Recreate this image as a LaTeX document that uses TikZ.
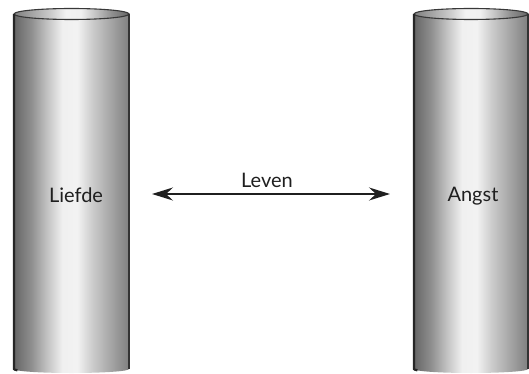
\documentclass[tikz,border=0pt]{standalone}
\usepackage{fontspec}
\setmainfont{Lato}
\usetikzlibrary{arrows.meta}
\pgfdeclarehorizontalshading{pillar}{100bp}{
  color(0bp)=(black!60);
  color(25bp)=(black!60);
  color(32.5bp)=(black!44);
  color(40bp)=(black!22);
  color(46bp)=(black!6);
  color(52.5bp)=(black!5);
  color(59bp)=(black!20);
  color(67.5bp)=(black!36);
  color(75bp)=(black!50);
  color(100bp)=(black!50)}
\tikzset{
  lbl/.style={font=\fontsize{20}{24}\selectfont, text=black!88, anchor=base, inner sep=0pt},
  rimline/.style={draw=black!78, line width=1.1pt},
  conn/.style={line width=1.4pt, black!88, {Stealth[length=21pt,width=13pt,inset=7pt]}-{Stealth[length=21pt,width=13pt,inset=7pt]}}
}
\newcommand{\mypillar}[2]{% left x, right x
  \pgfmathsetmacro{\rx}{(#2-#1)/2}
  \shade[shading=pillar] (#1,14) -- (#1,369) arc[start angle=180,end angle=360,x radius=\rx,y radius=-4] -- (#2,14) -- cycle;
  \shade[shading=pillar, shading angle=180] (#1,14) arc[start angle=180,end angle=-180,x radius=\rx,y radius=5.5];
  \draw[rimline] (#1,14) arc[start angle=180,end angle=-180,x radius=\rx,y radius=5.5];
  \draw[black!85, line width=2.2pt] (#1,14) -- (#1,369) arc[start angle=180,end angle=200,x radius=\rx,y radius=-4];
  \draw[black!80, line width=1.3pt] (#2,14) -- (#2,369);
}
\begin{document}
\begin{tikzpicture}[x=1pt,y=-1pt]
\useasboundingbox (0,0) rectangle (529,374);
\mypillar{14}{129}
\mypillar{414}{528}
\node[lbl] (liefde) at (76,202) {Liefde};
\node[lbl] (angst) at (473,201) {Angst};
\node[lbl] (leven) at (267,187) {Leven};
\coordinate (aL) at (152,194);
\coordinate (aR) at (390,194);
\draw[conn] (aL) -- (aR);
\end{tikzpicture}
\end{document}
